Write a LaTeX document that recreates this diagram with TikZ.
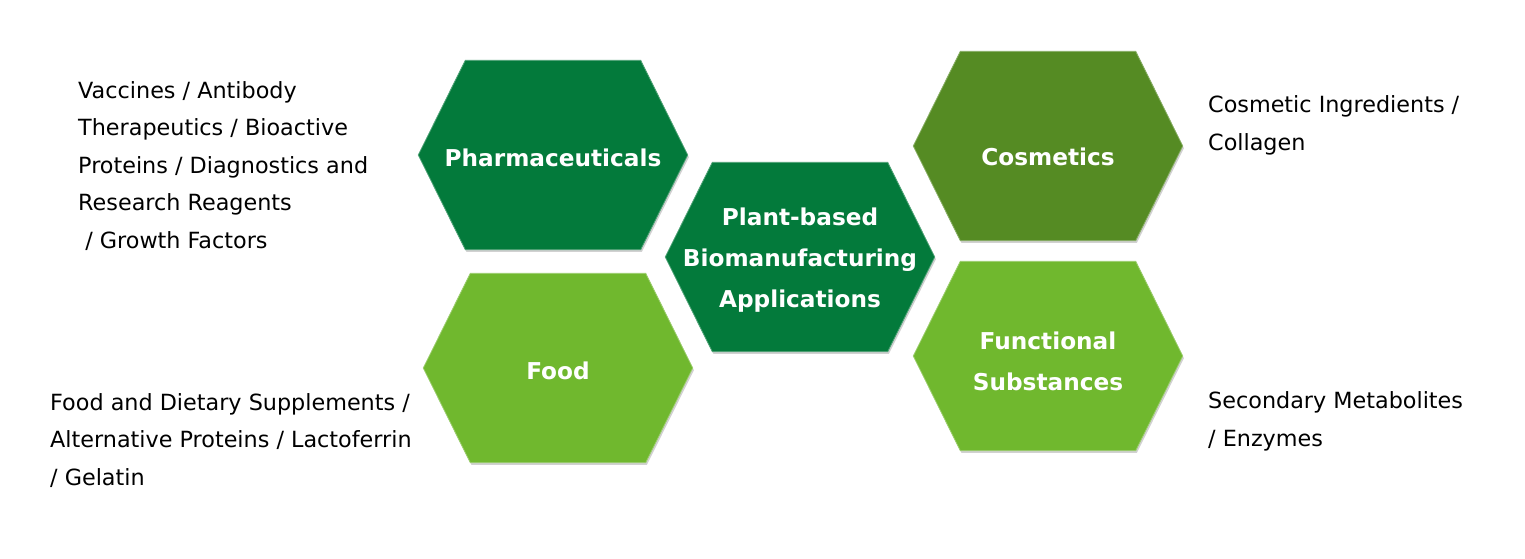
\documentclass[tikz,border=0pt]{standalone}
\usepackage{fontspec}
\setmainfont{DejaVu Sans}
\usetikzlibrary{positioning, backgrounds, calc}

\definecolor{pharmagreen}{RGB}{3,122,59}
\definecolor{cosmogreen}{RGB}{85,139,35}
\definecolor{foodgreen}{RGB}{112,184,46}

\begin{document}
\begin{tikzpicture}[
  x=1pt, y=-1pt,
  hexa/.style={minimum width=269pt, minimum height=189pt, inner sep=0pt},
  hexlabel/.style={align=center, text=white, yshift=-3pt, font=\bfseries\fontsize{23.2}{41}\selectfont},
  desc/.style={anchor=base west, align=left, inner sep=0pt, font=\fontsize{22.3}{37.5}\selectfont}
]
  \useasboundingbox (0,0) rectangle (1525,559);

  % hexagons (outline drawn on background)
  \node[hexa, label={[hexlabel]center:Pharmaceuticals}] (pharma) at (553,155) {};
  \node[hexa, label={[hexlabel]center:Plant-based\\Biomanufacturing\\Applications}] (centre) at (800,257) {};
  \node[hexa, label={[hexlabel, yshift=-8pt]center:Cosmetics}] (cosmo) at (1048,146) {};
  \node[hexa, label={[hexlabel]center:Food}] (food) at (558,368) {};
  \node[hexa, label={[hexlabel, yshift=-2pt]center:Functional\\Substances}] (func) at (1048,356) {};

  \begin{scope}[on background layer]
    \foreach \n/\c in {pharma/pharmagreen, centre/pharmagreen, cosmo/cosmogreen, food/foodgreen, func/foodgreen} {
      \fill[black, opacity=0.18, transform canvas={shift={(1.2pt,-2.2pt)}}] (\n.west) -- ([xshift=47pt]\n.north west) -- ([xshift=-47pt]\n.north east) -- (\n.east) -- ([xshift=-47pt]\n.south east) -- ([xshift=47pt]\n.south west) -- cycle;
      \filldraw[fill=\c, draw=\c!70!white, line width=0.8pt] (\n.west) -- ([xshift=47pt]\n.north west) -- ([xshift=-47pt]\n.north east) -- (\n.east) -- ([xshift=-47pt]\n.south east) -- ([xshift=47pt]\n.south west) -- cycle;
    }
  \end{scope}

  % descriptions (placed at the baseline of their last line)
  \node[desc] (pharmatext) at (78,248) {Vaccines / Antibody\\Therapeutics / Bioactive\\Proteins / Diagnostics and\\Research Reagents\\~/ Growth Factors};
  \node[desc] (foodtext) at (50,485) {Food and Dietary Supplements /\\Alternative Proteins / Lactoferrin\\/ Gelatin};
  \node[desc] (cosmotext) at (1208,150) {Cosmetic Ingredients /\\Collagen};
  \node[desc] (functext) at (1208,446) {Secondary Metabolites\\/ Enzymes};
\end{tikzpicture}
\end{document}
